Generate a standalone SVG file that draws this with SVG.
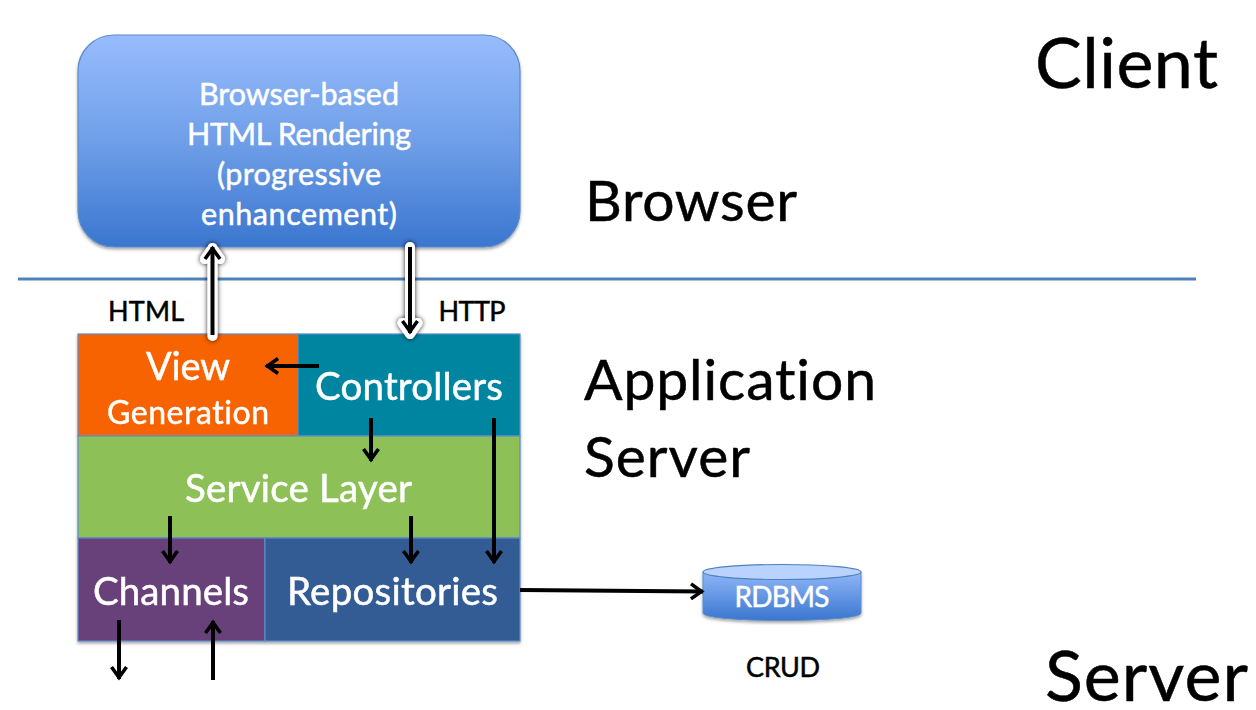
<svg xmlns="http://www.w3.org/2000/svg" width="1256" height="710" viewBox="0 0 1256 710">
<style>
text{font-family:Lato,"Liberation Sans",sans-serif;text-anchor:middle;font-variant-ligatures:none;stroke-width:.5}
.w{fill:#fff;stroke:#fff}
.k{fill:#000;stroke:#000}
.s{text-anchor:start}
.b{stroke:#5b8ccb;stroke-width:1.2}
.c{fill:none;stroke:#000;stroke-width:4;marker-end:url(#a)}
.h{fill:none;stroke:#fff;stroke-width:10;stroke-linecap:round;stroke-linejoin:round;filter:url(#g)}
</style>
<defs>
<marker id="a" viewBox="0 0 20 20" refX="17" refY="10" markerWidth="20" markerHeight="20" markerUnits="userSpaceOnUse" orient="auto"><path d="M5 2.500L15.500 10L5 17.500" fill="none" stroke="#000" stroke-width="3.6"/></marker>
<linearGradient id="blue" x1="0" y1="0" x2="0" y2="1"><stop offset="0" stop-color="#98bcfd"/><stop offset="0.5" stop-color="#6f9fe8"/><stop offset="1" stop-color="#3a76cf"/></linearGradient>
<linearGradient id="db" x1="0" y1="0" x2="0" y2="1"><stop offset="0" stop-color="#8fb6f8"/><stop offset="1" stop-color="#3a76cf"/></linearGradient>
<filter id="s" x="-5%" y="-5%" width="110%" height="115%"><feDropShadow dx="0" dy="2" stdDeviation="1.6" flood-color="#000" flood-opacity="0.35"/></filter>
<filter id="g" filterUnits="userSpaceOnUse" x="0" y="0" width="1256" height="710"><feDropShadow dx="0" dy="0" stdDeviation="2.600" flood-color="#000" flood-opacity="0.85"/></filter>
</defs>
<g id="divider"><line x1="18" y1="279" x2="1196" y2="279" stroke="#4f81bd" stroke-width="3"/></g>
<g id="browser"><rect x="78" y="35" width="442" height="212" rx="36" fill="url(#blue)" stroke="#5b8ccb" stroke-width="1.2" filter="url(#s)"/>
<text class="w" x="299" y="104.500" font-size="30.500" textLength="200">Browser-based</text>
<text class="w" x="299" y="144.500" font-size="30.500" textLength="224">HTML Rendering</text>
<text class="w" x="299" y="184.500" font-size="30.500" textLength="164">(progressive</text>
<text class="w" x="299" y="224.500" font-size="30.500" textLength="196">enhancement)</text></g>
<g filter="url(#s)">
<g id="view"><rect class="b" x="78" y="334" width="220" height="102" fill="#f66400"/>
<text class="w" x="188" y="379.500" font-size="38" textLength="84">View</text>
<text class="w" x="188" y="423.500" font-size="32" textLength="162">Generation</text></g>
<g id="controllers"><rect class="b" x="298" y="334" width="222" height="102" fill="#0085a1"/>
<text class="w" x="409" y="400" font-size="38.500" textLength="188">Controllers</text></g>
<g id="service"><rect class="b" x="78" y="436" width="442" height="102" fill="#8dc158"/>
<text class="w" x="298.500" y="502" font-size="38.500" textLength="227">Service Layer</text></g>
<g id="channels"><rect class="b" x="78" y="538" width="187" height="103" fill="#68417a"/>
<text class="w" x="171" y="605" font-size="38.500" textLength="156">Channels</text></g>
<g id="repositories"><rect class="b" x="265" y="538" width="255" height="103" fill="#315c93"/>
<text class="w" x="392.500" y="605" font-size="38.500" textLength="211">Repositories</text></g>
</g>
<g id="rdbms"><path d="M703 572V613C703 623 861 623 861 613V572Z" fill="url(#db)" stroke="#5b8ccb" filter="url(#s)"/>
<ellipse cx="782" cy="572" rx="79" ry="7.500" fill="#b9d3fe" stroke="#4f81bd" stroke-width="1.2"/>
<text class="w" x="782" y="607" font-size="28" textLength="95">RDBMS</text></g>
<g id="connectors">
<path class="h" d="M212.500 336V248M205 259L212.500 248L220 259"/>
<path class="h" d="M410 247V334M402.500 323L410 334L417.500 323"/>
<path class="c" d="M212.500 335V247"/>
<path class="c" d="M410 247V333"/>
<path class="c" d="M319 366H266"/>
<path class="c" d="M371 418V461"/>
<path class="c" d="M494 418V563"/>
<path class="c" d="M170 516V563"/>
<path class="c" d="M411 516V563"/>
<path class="c" d="M119 620V679"/>
<path class="c" d="M213 680V621"/>
<path class="c" d="M520 590L703 591.500"/>
</g>
<g id="labels">
<text class="k" x="146" y="321" font-size="27" textLength="76">HTML</text>
<text class="k" x="472" y="321" font-size="27" textLength="67">HTTP</text>
<text class="k" x="783" y="677" font-size="27" textLength="74">CRUD</text>
<text class="k s" x="585" y="221" font-size="57" textLength="212">Browser</text>
<text class="k s" x="584" y="400" font-size="57" textLength="292">Application</text>
<text class="k s" x="584" y="477" font-size="57" textLength="166">Server</text>
<text class="k s" x="1035" y="88" font-size="70" textLength="183">Client</text>
<text class="k s" x="1045" y="701" font-size="70" textLength="203">Server</text>
</g>
</svg>
